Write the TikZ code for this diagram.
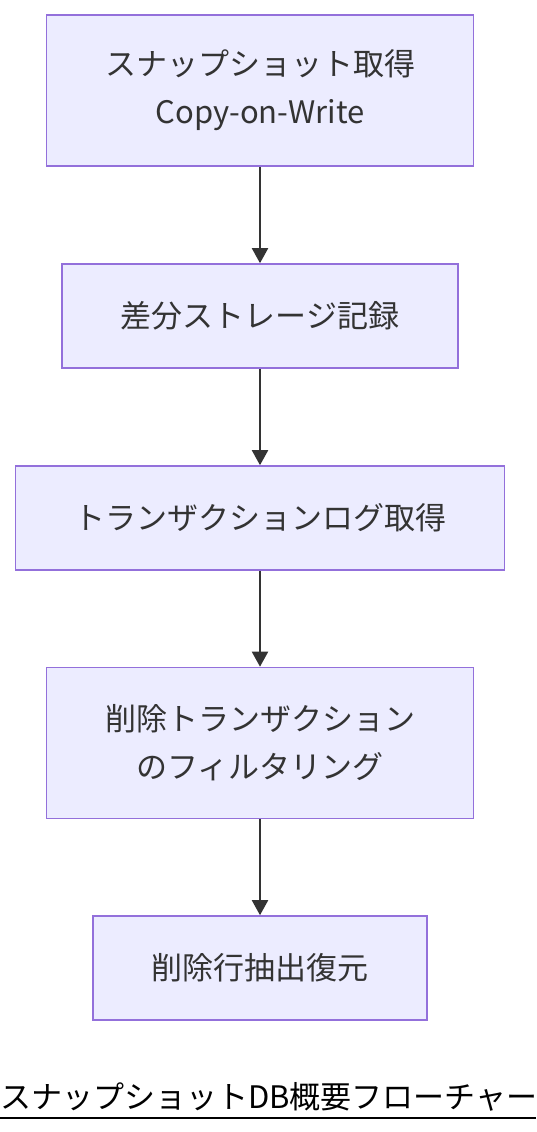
\documentclass[tikz,border=0pt]{standalone}
\usepackage{fontspec}
\setmainfont{Noto Sans CJK JP}
\usetikzlibrary{arrows.meta}
\definecolor{boxfill}{HTML}{ECECFF}
\definecolor{boxline}{HTML}{9370DB}
\definecolor{ink}{HTML}{333333}
\begin{document}
\begin{tikzpicture}[x=1pt,y=-1pt,
  box/.style={draw=boxline, fill=boxfill, line width=1.6pt, inner sep=0pt,
    text=ink, align=center, font=\fontsize{31}{48}\selectfont},
  flow/.style={draw=ink, line width=2pt, -{Triangle[length=15pt,width=16pt]}}]
\useasboundingbox[fill=white] (0,0) rectangle (536,1132);
\node[box, minimum width=427pt, minimum height=151pt] (n1) at (260,90.5) {スナップショット取得\\Copy-on-Write};
\node[box, minimum width=396pt, minimum height=104pt] (n2) at (260,316) {差分ストレージ記録};
\node[box, minimum width=489pt, minimum height=104pt] (n3) at (260,518) {トランザクションログ取得};
\node[box, minimum width=427pt, minimum height=151pt] (n4) at (260,743) {削除トランザクション\\のフィルタリング};
\node[box, minimum width=334pt, minimum height=104pt] (n5) at (260,968) {削除行抽出復元};
\draw[flow] (n1.south) -- (n2.north);
\draw[flow] (n2.south) -- (n3.north);
\draw[flow] (n3.south) -- (n4.north);
\draw[flow] (n4.south) -- (n5.north);
\node[anchor=base west, inner sep=0pt, text=black, font=\fontsize{31}{32}\selectfont] (title) at (0,1108) {スナップショットDB概要フローチャー};
\coordinate (ulL) at (0,1118);
\coordinate (ulR) at (536,1118);
\draw[line width=1.8pt, black] (ulL) -- (ulR);
\end{tikzpicture}
\end{document}
